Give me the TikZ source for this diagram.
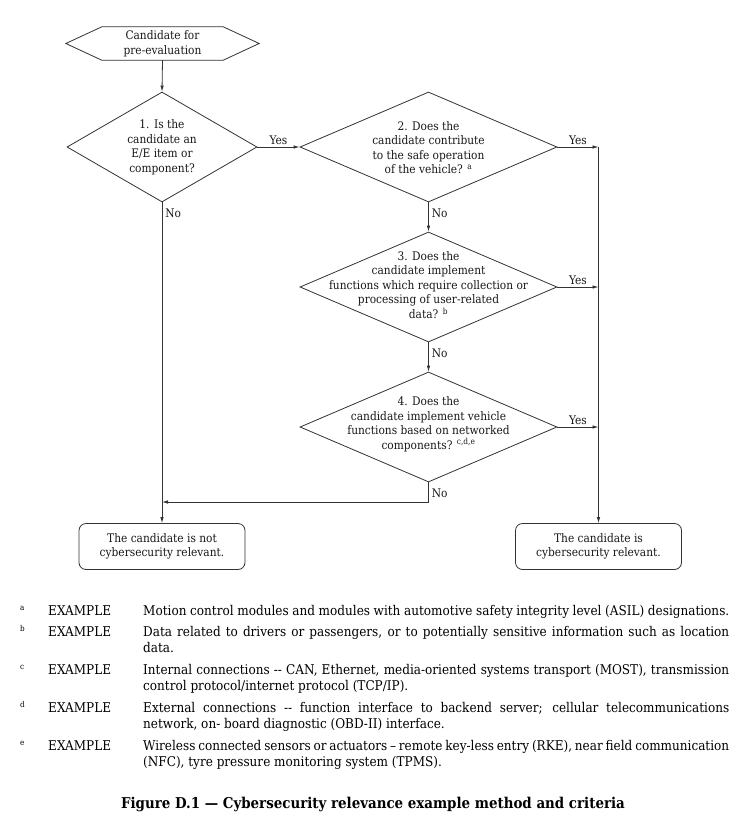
\documentclass[tikz,border=0pt]{standalone}
\usepackage{fontspec}
\IfFontExistsTF{DejaVu Serif Condensed}{\setmainfont{DejaVu Serif Condensed}}{\setmainfont{Liberation Serif}}
\usetikzlibrary{shapes.geometric,arrows.meta,calc}
\newcommand{\nohyph}{\tolerance=9999\relax\hyphenpenalty=10000\relax\exhyphenpenalty=10000\relax}
\begin{document}
\begin{tikzpicture}[x=1pt,y=-1pt,
 line/.style={draw=black!80, line width=0.8pt},
 arr/.style={line, -{Latex[length=6pt,width=3.5pt]}},
 dia/.style={diamond, line, inner sep=0pt, minimum width=#1, minimum height=110pt},
 qtext/.style={align=center, font=\fontsize{11.8}{14.5}\selectfont, inner sep=0pt, text=black!90},
 endbox/.style={qtext, line, rounded corners=7pt, minimum width=166pt, minimum height=46pt},
 yes/.style={above=2pt, qtext},
 no/.style={right=3pt, qtext},
 sup/.style={anchor=base west, font=\fontsize{8}{9}\selectfont, inner sep=0pt},
 exl/.style={anchor=base west, font=\fontsize{13.4}{16}\selectfont, inner sep=0pt},
 fnt/.style={anchor=north west, text width=586pt, align=justify, font=\fontsize{13.4}{16}\selectfont, inner sep=0pt},
 ttl/.style={font=\bfseries\fontsize{14.9}{17}\selectfont, inner sep=0pt}
]
\useasboundingbox[fill=white] (0,0) rectangle (744,819);

% start hexagon
\node[qtext, minimum width=193pt, minimum height=33pt] (start) at (162.5,43.5) {Candidate for\\pre-evaluation};
\draw[line] (start.west) -- ($(start.north west)+(36,0)$) -- ($(start.north east)+(-36,0)$) -- (start.east)
  -- ($(start.south east)+(-36,0)$) -- ($(start.south west)+(36,0)$) -- cycle;

% diamonds
\node[dia=190pt] (d1) at (162,147) {};
\node[qtext] (t1) at (162,147) {1. Is the\\candidate an\\E/E item or\\component?};
\node[dia=257pt] (d2) at (428.5,147) {};
\node[qtext] (t2) at (428.5,147.5) {2. Does the\\candidate contribute\\to the safe operation\\of the vehicle? \textsuperscript{a}};
\node[dia=257pt] (d3) at (428.5,287) {};
\node[qtext] (t3) at (428.5,285) {3. Does the\\candidate implement\\functions which require collection or\\processing of user-related\\data? \textsuperscript{b}};
\node[dia=257pt] (d4) at (428.5,427) {};
\node[qtext] (t4) at (428.5,424) {4. Does the\\candidate implement vehicle\\functions based on networked\\components? \textsuperscript{c,d,e}};

% end boxes
\node[endbox] (nr) at (162,546.5) {The candidate is not\\cybersecurity relevant.};
\node[endbox] (rr) at (598.5,546.5) {The candidate is\\cybersecurity relevant.};

% junctions
\coordinate (j2) at (598.5,147);
\coordinate (j3) at (598.5,287);
\coordinate (j4) at (598.5,427);
\coordinate (j5) at (428.5,502);
\coordinate (j6) at (162,502);

% connectors
\draw[arr] (start.south) -- (d1.north);
\draw[arr] (d1.east) -- node[yes]{Yes} (d2.west);
\draw[arr] (d2.east) -- node[yes]{Yes} (j2);
\draw[arr] (d3.east) -- node[yes]{Yes} (j3);
\draw[arr] (d4.east) -- node[yes]{Yes} (j4);
\draw[arr] (j2) -- (rr.north);
\draw[arr] (d2.south) -- node[no, pos=0.37]{No} (d3.north);
\draw[arr] (d3.south) -- node[no, pos=0.37]{No} (d4.north);
\draw[line] (d4.south) -- node[no, pos=0.55]{No} (j5);
\draw[arr] (j5) -- (j6);
\draw[arr] (d1.south) -- node[no, pos=0.035]{No} (nr.north);

% footnotes
\node[sup] (sa) at (20,610) {a};
\node[exl] (ea) at (48,615.5) {EXAMPLE};
\node[fnt] (fa) at (143,604.3) {\nohyph\strut Motion control modules and modules with automotive safety integrity level (ASIL) designations.};
\node[sup] (sb) at (20,631) {b};
\node[exl] (eb) at (48,636.5) {EXAMPLE};
\node[fnt] (fb) at (143,625.3) {\nohyph\strut Data related to drivers or passengers, or to potentially sensitive information such as location data.};
\node[sup] (sc) at (20,669) {c};
\node[exl] (ec) at (48,674.5) {EXAMPLE};
\node[fnt] (fc) at (143,663.3) {\nohyph\strut Internal connections -{}- CAN, Ethernet, media-oriented systems transport (MOST), transmission control protocol/internet protocol (TCP/IP).};
\node[sup] (sd) at (20,707) {d};
\node[exl] (ed) at (48,712.5) {EXAMPLE};
\node[fnt] (fd) at (143,701.3) {\nohyph\strut External connections -{}- function interface to backend server; cellular telecommunications \mbox{network,} on- board diagnostic (OBD-II) interface.};
\node[sup] (se) at (20,745) {e};
\node[exl] (ee) at (48,750.5) {EXAMPLE};
\node[fnt] (fe) at (143,739.3) {\nohyph\strut Wireless connected sensors or actuators – remote key-less entry (RKE), near field communication (NFC), tyre pressure monitoring system (TPMS).};

% title
\node[ttl] (title) at (373,804) {Figure D.1 — Cybersecurity relevance example method and criteria};
\end{tikzpicture}
\end{document}
